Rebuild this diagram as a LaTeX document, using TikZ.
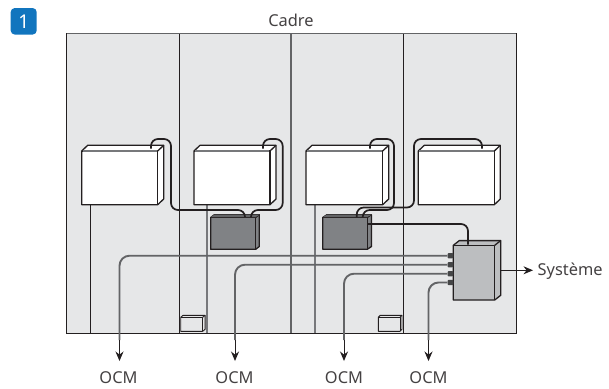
\documentclass[tikz,border=0pt]{standalone}
\usepackage{fontspec}
\setmainfont{Noto Sans}
\usetikzlibrary{arrows.meta,calc}
\definecolor{panel}{HTML}{E6E7E8}
\definecolor{ink}{HTML}{231F20}
\definecolor{rail}{HTML}{636466}
\definecolor{railb}{HTML}{77787B}
\definecolor{darkbox}{HTML}{808285}
\definecolor{greybox}{HTML}{BCBEC0}
\definecolor{badge}{HTML}{1175BE}
\tikzset{
  frameline/.style={draw=ink,line width=1pt},
  drop/.style={draw=ink,line width=1pt},
  dropgrey/.style={draw=railb,line width=1.4pt},
  power/.style={draw=ink,line width=1.7pt,rounded corners=7pt},
  ocmrail/.style={draw=rail,line width=1.9pt,rounded corners=10pt},
  tail/.style={draw=ink,line width=1pt,-{Stealth[length=9.5pt,width=8pt]}},
  lbl/.style={text=ink!85!white,font=\fontsize{16.4}{18}\selectfont,inner sep=0pt},
  ocmlbl/.style={lbl,anchor=south,text height=11.7pt,text depth=0pt,inner ysep=10.8pt},
  face/.style={draw=ink,line width=1.2pt,line join=round},
  port/.style={draw=none,fill=rail!70!black,rounded corners=1pt,minimum width=5.8pt,minimum height=5.4pt,inner sep=0pt},
}
% #1 name, #2 left, #3 top(front), #4 right, #5 bottom, #6 dx, #7 dy, #8 fill, #9 line width
\newcommand{\solidbox}[9]{%
  \path[face,line width=#9,fill=#8] (#2,#3) -- ($(#2,#3)+(#6,-#7)$) -- ($(#4,#3)+(#6,-#7)$) -- ($(#4,#5)+(#6,-#7)$) -- (#4,#5) -- (#2,#5) -- cycle;
  \path[face,line width=#9] (#4,#3) -- ($(#4,#3)+(#6,-#7)$);
  \path[face,line width=#9] (#2,#3) -- (#4,#3) -- (#4,#5);
  \coordinate (#1) at (#2,#3);
}
\begin{document}
\begin{tikzpicture}[x=1pt,y=-1pt]
\useasboundingbox (0,0) rectangle (609,388);
% badge
\node[fill=badge,rounded corners=4pt,minimum width=26pt,minimum height=26.5pt,inner sep=0pt,text=white,font=\fontsize{19}{20}\selectfont] (badgeone) at (23.7,21.3) {1};
% frame
\path[fill=panel] (66.5,33.5) rectangle (516,333);
\node[lbl] (cadre) at (291,20.5) {Cadre};
\coordinate (ftop1) at (179,33.5); \coordinate (fbot1) at (179,333);
\coordinate (ftop2) at (291,33.5); \coordinate (fbot2) at (291,333);
\coordinate (ftop3) at (403,33.5); \coordinate (fbot3) at (403,333);
\draw[frameline] (ftop1) -- (fbot1);
\draw[frameline,draw=rail,line width=1.3pt] (ftop2) -- (fbot2);
\draw[frameline] (ftop3) -- (fbot3);
\draw[frameline] (66.5,33.5) rectangle (516,333);
\draw[draw=rail,line width=1.3pt] (66.5,33.5) -- (516,33.5);
% drops
\coordinate (d1a) at (90.3,205); \coordinate (d1b) at (90.3,333);
\coordinate (d2a) at (207.1,205); \coordinate (d2b) at (207.1,333);
\coordinate (d3a) at (315,205); \coordinate (d3b) at (315,333);
\draw[drop] (d1a) -- (d1b);
\draw[dropgrey,line width=1.7pt] (d2a) -- (d2b);
\draw[dropgrey] (d3a) -- (d3b);
% small boxes
\solidbox{sa}{180.7}{317.3}{202.7}{331.3}{2.4}{2}{panel}{0.9pt}
\solidbox{sb}{378.3}{317.3}{400}{331.3}{2}{2}{panel}{0.9pt}
% white boxes
\solidbox{ba}{81.7}{151}{157.7}{204.7}{6}{5.7}{white}{1.3pt}
\solidbox{bb}{194}{151}{270}{204.7}{6}{5.7}{white}{1.3pt}
\solidbox{bc}{306}{151}{382.7}{204.7}{6}{5.7}{white}{1.3pt}
\solidbox{bd}{418.3}{151}{494.3}{204.7}{6}{5.7}{white}{1.3pt}
\draw[draw=railb,line width=1.4pt] (82.5,151) -- (157,151);
\draw[draw=railb,line width=1.4pt] (195,151) -- (269,151);
\draw[draw=railb,line width=1.4pt] (307,151) -- (382,151);
\draw[draw=railb,line width=1.4pt] (419,151) -- (493.5,151);
% dark boxes
\solidbox{da}{210.7}{217.5}{255.7}{249.3}{3.6}{2.8}{darkbox}{1.3pt}
\solidbox{db}{322.7}{217.5}{367.3}{249.3}{4.2}{2.8}{darkbox}{1.3pt}
\fill[rail] (211,217) -- (214.3,214.7) -- (259.3,214.7) -- (255.7,217) -- cycle;
\fill[rail] (323,217) -- (326.9,214.7) -- (371.5,214.7) -- (367.3,217) -- cycle;
% grey box
\solidbox{ga}{453.3}{245.3}{494.7}{300}{6}{4.7}{greybox}{1.3pt}
% ports
\node[port] (p1) at (450.4,255.7) {};
\node[port] (p2) at (450.4,264.7) {};
\node[port] (p3) at (450.4,273.7) {};
\node[port] (p4) at (450.4,282.5) {};
% labels
\node[ocmlbl] (ocm1) at (118.5,394.3) {OCM};
\node[ocmlbl] (ocm2) at (234.5,394.3) {OCM};
\node[ocmlbl] (ocm3) at (344,394.3) {OCM};
\node[ocmlbl] (ocm4) at (428.5,394.3) {OCM};
\node[lbl,anchor=west] (sys) at (537.5,271) {Système};
% OCM rails
\coordinate (r1) at (119.5,340); \coordinate (r2) at (235,340); \coordinate (r3) at (344,340); \coordinate (r4) at (428.5,340);
\coordinate (t1) at (119.5,361); \coordinate (t2) at (235,361); \coordinate (t3) at (344,361); \coordinate (t4) at (428.5,361);
\draw[ocmrail] (p1.west) -- (r1 |- p1.west) -- (r1);
\draw[ocmrail] (p2.west) -- (r2 |- p2.west) -- (r2);
\draw[ocmrail] (p3.west) -- (r3 |- p3.west) -- (r3);
\draw[ocmrail] (p4.west) -- (r4 |- p4.west) -- (r4);
\draw[tail] (r1) -- (t1);
\draw[tail] (r2) -- (t2);
\draw[tail] (r3) -- (t3);
\draw[tail] (r4) -- (t4);
% system arrow
\coordinate (gout) at (500.7,270.3);
\coordinate (gend) at (533,270.3);
\draw[tail] (gout) -- (gend);
% power cables
\coordinate (aout) at (151,148.5); \coordinate (bout) at (263,148.5);
\coordinate (cout) at (370,148.5); \coordinate (dout) at (482,148.5);
\coordinate (ain) at (245,217); \coordinate (bin) at (251,217);
\coordinate (cin) at (362.7,217); \coordinate (din) at (356.7,217);
\coordinate (dbout) at (367.3,224); \coordinate (gin) at (468,244.5);
\draw[power] (aout) -- (151,139) -- (171,139) -- (171,210) -- (245,210) -- (ain);
\draw[power] (bout) -- (263,139) -- (282.7,139) -- (282.7,210) -- (251,210) -- (bin);
\draw[power] (cout) -- (370,139) -- (394,139) -- (394,210) -- (362.7,210) -- (cin);
\draw[power] (dout) -- (482,139) -- (414,139) -- (414,207.5) -- (356.7,207.5) -- (din);
\draw[power] (dbout) -- (468,224) -- (gin);
\end{tikzpicture}
\end{document}
